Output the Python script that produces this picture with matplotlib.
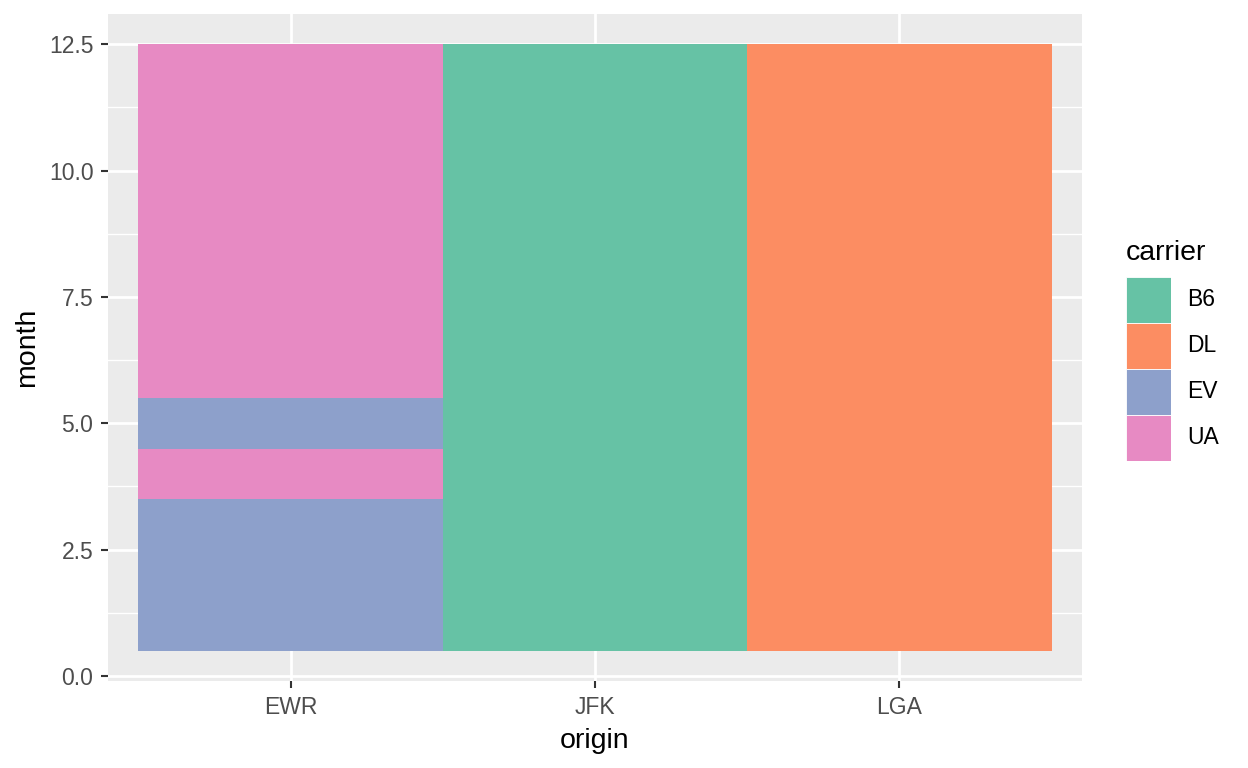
import matplotlib.pyplot as plt
import numpy as np

plt.rcParams['font.family'] = ['Liberation Sans', 'DejaVu Sans']

# most common carrier per origin airport and month
origins = ["EWR", "JFK", "LGA"]
months = [1, 2, 3, 4, 5, 6, 7, 8, 9, 10, 11, 12]
ewr_carrier = ["EV", "EV", "EV", "UA", "EV", "UA", "UA", "UA", "UA", "UA", "UA", "UA"]
jfk_carrier = ["B6", "B6", "B6", "B6", "B6", "B6", "B6", "B6", "B6", "B6", "B6", "B6"]
lga_carrier = ["DL", "DL", "DL", "DL", "DL", "DL", "DL", "DL", "DL", "DL", "DL", "DL"]
carriers = ["B6", "DL", "EV", "UA"]
palette = {"B6": "#66C2A5", "DL": "#FC8D62", "EV": "#8DA0CB", "UA": "#E78AC3"}

fig = plt.figure(figsize=(12.48, 7.68), dpi=100)
ax = fig.add_axes([108/1248, 1 - 681/768, 974/1248, 667/768])
ax.set_facecolor("#EBEBEB")

# tiles
for i, col in enumerate([ewr_carrier, jfk_carrier, lga_carrier]):
    x = i + 1
    ax.bar([x] * len(months), [1] * len(months), bottom=np.array(months) - 0.5,
           width=1.0, color=[palette[c] for c in col], linewidth=0, zorder=3)

ax.set_xlim(0.4, 3.6)
ax.set_ylim(-0.1, 13.1)
ax.set_xticks([1, 2, 3])
ax.set_xticklabels(origins)
ax.set_yticks([0, 2.5, 5, 7.5, 10, 12.5])
ax.set_yticklabels(["0.0", "2.5", "5.0", "7.5", "10.0", "12.5"])
ax.set_yticks([1.25, 3.75, 6.25, 8.75, 11.25], minor=True)

ax.grid(which="major", color="white", linewidth=2.0, zorder=1)
ax.grid(which="minor", axis="y", color="white", linewidth=1.0, zorder=1)
ax.set_axisbelow(True)
for s in ax.spines.values():
    s.set_visible(False)

ax.tick_params(which="major", length=5, width=1.5, color="#333333",
               labelcolor="#4D4D4D", labelsize=16.5)
ax.tick_params(axis="y", which="major", pad=5.5)
ax.tick_params(axis="x", which="major", pad=5.5)
ax.tick_params(which="minor", length=0)

ax.set_xlabel("origin", fontsize=20.5, labelpad=7)
ax.set_ylabel("month", fontsize=20.5, labelpad=6)

# legend
lax = fig.add_axes([1126/1248, 1 - 461/768, 45/1248, 184/768])
lax.bar([0] * len(carriers), [1] * len(carriers),
        bottom=np.arange(len(carriers))[::-1], width=1.0,
        color=[palette[c] for c in carriers], edgecolor="white", linewidth=0.6)
lax.set_xlim(-0.5, 0.5)
lax.set_ylim(0, len(carriers))
lax.axis("off")
for k, c in enumerate(carriers):
    yc = 1 - (277 + 46 * k + 23) / 768
    fig.text(1187/1248, yc, c, fontsize=16.5, va="center", ha="left")
fig.text(1126/1248, 1 - 260/768, "carrier", fontsize=20.5, va="baseline", ha="left")

fig.savefig("out.png", dpi=100)
